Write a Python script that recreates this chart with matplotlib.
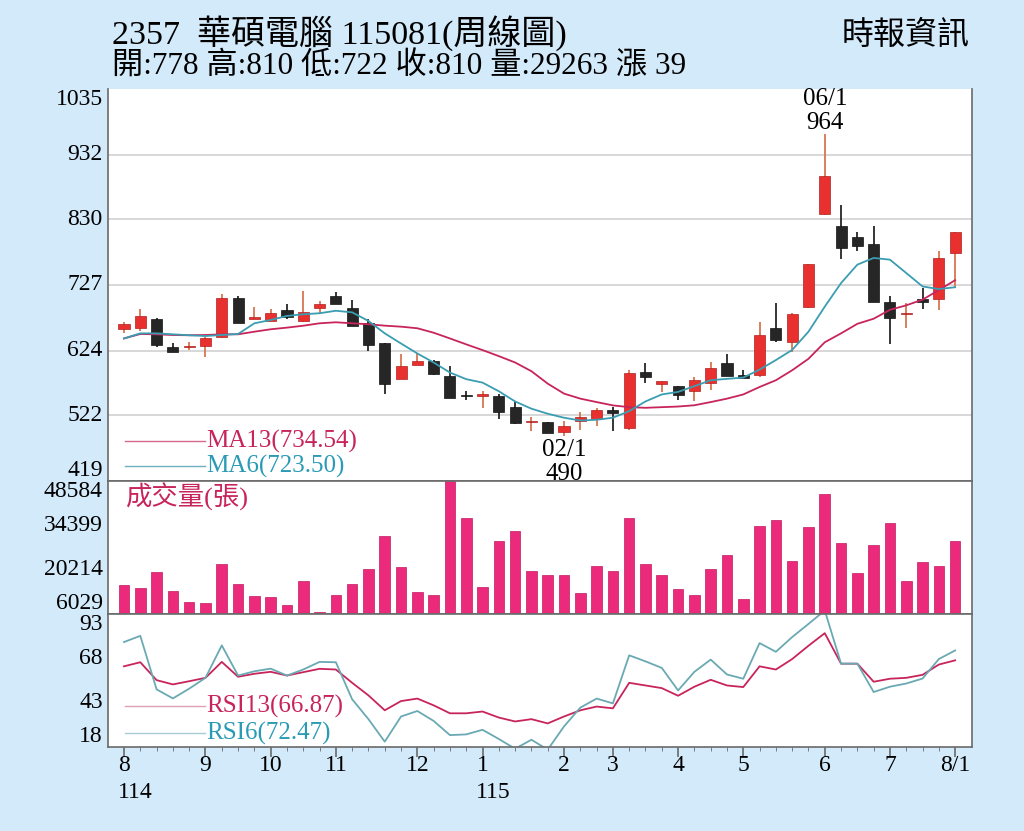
import matplotlib
matplotlib.use("Agg")
import matplotlib.pyplot as plt
import numpy as np

plt.rcParams['font.family'] = ['Liberation Serif', 'Noto Sans CJK TC', 'DejaVu Sans']

# 週K資料 (52 週)
opens = [658, 660, 674, 630, 630, 631, 646, 706, 673, 671, 688, 670, 691, 710, 691, 668,
         636, 579, 601, 607, 584, 554, 553, 552, 536, 512, 512, 496, 513, 517, 531, 503,
         590, 572, 568, 560, 573, 605, 585, 585, 660, 637, 692, 838, 819, 803, 792, 701,
         682, 705, 705, 778]
highs = [669, 689, 675, 636, 638, 645, 713, 710, 693, 690, 697, 718, 702, 716, 704, 673,
         636, 618, 620, 609, 599, 561, 561, 556, 544, 520, 512, 514, 528, 533, 535, 593,
         604, 576, 569, 582, 606, 618, 594, 669, 698, 683, 760, 964, 852, 810, 819, 710,
         698, 722, 780, 810]
lows = [652, 654, 630, 621, 625, 614, 644, 667, 673, 670, 673, 669, 683, 697, 663, 624,
        555, 579, 601, 585, 549, 546, 533, 517, 509, 498, 495, 490, 499, 505, 498, 499,
        573, 559, 547, 544, 562, 584, 581, 582, 637, 622, 691, 837, 768, 781, 700, 635,
        660, 689, 688, 722]
closes = [665, 678, 633, 621, 631, 644, 706, 668, 677, 683, 677, 684, 697, 697, 663, 633,
          572, 600, 607, 587, 549, 553, 555, 528, 510, 513, 495, 506, 520, 531, 526, 588,
          582, 576, 554, 577, 597, 584, 581, 648, 640, 681, 760, 899, 785, 789, 700, 675,
          683, 700, 770, 810]

ma13 = [643, 650, 649.5, 648.4, 648, 648.4, 649.5, 649.5, 653.6, 657.4, 660, 663, 666.8,
        668.4, 666.8, 665.3, 663.1, 661.5, 659, 652, 643, 633.7, 624.7, 615.2, 605.2, 591.5,
        572, 556.3, 548.4, 543, 537.8, 535, 534, 535, 536, 538, 543, 548.4, 555, 566.7,
        577.3, 593, 611, 637, 651, 666, 674, 688, 695, 704, 719, 734.54]
ma6 = [643, 651, 651, 649.5, 648, 646.8, 648.4, 650, 666.8, 672, 678.4, 681, 682.6, 686.5,
       684, 670.5, 651, 635, 619.4, 605.2, 589.4, 579, 573.6, 560, 544, 532.6, 524.7, 518.4,
       514.1, 515.2, 518.4, 528.8, 544, 555, 559, 568, 577.3, 579.5, 581.5, 594, 609, 625,
       653.6, 693, 730, 759, 769.5, 766.8, 745.8, 724.7, 720.6, 723.5]

volumes = [15400, 14344, 19368, 13480, 9864, 9448, 22024, 15624, 11784, 11560, 8904, 16488,
           6664, 12200, 15528, 20520, 31080, 21160, 12968, 12200, 48584, 36744, 14568, 29480,
           32680, 19880, 18504, 18504, 12840, 21480, 19688, 36744, 22024, 18504, 14024, 12104,
           20424, 25000, 10920, 34088, 36200, 22984, 33768, 44424, 28648, 19144, 28104, 35048,
           16488, 22664, 21384, 29263]

rsi13 = [63.5, 65.8, 55.7, 53.3, 55.1, 57.0, 66.0, 57.6, 59.3, 60.4, 58.3, 60.2, 62.1, 61.7,
         54.2, 47.1, 38.7, 43.9, 45.3, 41.5, 37.0, 37.0, 38.0, 34.6, 32.4, 33.7, 31.3, 35.2,
         38.7, 40.8, 39.8, 54.2, 52.7, 51.2, 46.9, 52.0, 55.9, 52.7, 51.8, 63.5, 61.7, 67.6,
         75.1, 82.2, 65.0, 65.0, 54.8, 56.5, 57.0, 58.7, 64.5, 66.87]
rsi6 = [77.2, 80.7, 50.5, 45.4, 50.9, 57.0, 75.3, 58.3, 60.7, 62.2, 58.3, 61.7, 66.0, 65.8,
        44.9, 33.7, 21.0, 35.2, 38.3, 32.7, 24.7, 25.1, 27.7, 22.5, 17.0, 22.1, 16.5, 29.6,
        40.2, 45.3, 42.6, 69.7, 66.3, 62.6, 49.9, 60.4, 67.3, 58.9, 56.5, 76.6, 71.7, 80.0,
        87.4, 95.0, 65.0, 65.0, 49.0, 52.0, 53.8, 56.6, 67.6, 72.47]

price_ticks = [419, 522, 624, 727, 830, 932, 1035]
vol_ticks = [6029, 20214, 34399, 48584]
rsi_ticks = [18, 43, 68, 93]

month_idx = [0, 5, 9, 13, 18, 22, 27, 30, 34, 38, 43, 47, 51]
month_lbl = ['8', '9', '10', '11', '12', '1', '2', '3', '4', '5', '6', '7', '8/1']
year_idx = [0, 22]
year_lbl = ['114', '115']

BG = '#d3eafa'
RED = '#e8312f'
BLACK = '#262626'
PINK = '#ec2a7c'
C13 = '#c8245c'
C6 = '#3a9db2'
FRAME = '#6a6a6a'

fig = plt.figure(figsize=(10.24, 8.31), dpi=100, facecolor=BG)
L, W = 0.1055, 0.8438
ax1 = fig.add_axes([L, 0.4212, W, 0.4717])
ax2 = fig.add_axes([L, 0.2611, W, 0.1600])
ax3 = fig.add_axes([L, 0.1011, W, 0.1600])

x = np.arange(len(closes))
xlim = (-0.98, 52.04)

for ax in (ax1, ax2, ax3):
    ax.set_xlim(*xlim)
    ax.set_facecolor('white')
    for s in ax.spines.values():
        s.set_color(FRAME)
        s.set_linewidth(1.2)
    ax.tick_params(left=False, labelleft=False, bottom=False, labelbottom=False)
ax1.spines['top'].set_visible(False)

# ---- K線 ----
ax1.set_ylim(price_ticks[0], price_ticks[-1])
for g in price_ticks[1:-1]:
    ax1.axhline(g, color='#d4d4d4', lw=1.3, zorder=0)

for i in x:
    o, h, l, c = opens[i], highs[i], lows[i], closes[i]
    up = c >= o
    body_c = RED if up else BLACK
    wick_c = '#d77550' if up else BLACK
    ax1.vlines(i, l, h, color=wick_c, lw=1.3, zorder=2)
    bh = max(abs(c - o), 1.6)
    ax1.bar(i, bh, bottom=min(o, c), width=0.68, color=body_c,
            edgecolor='#b02020' if up else '#111111', lw=0.5, zorder=3)

ax1.plot(x, ma13, color=C13, lw=1.3, zorder=4)
ax1.plot(x, ma6, color=C6, lw=1.3, zorder=4)

for v in price_ticks:
    va = 'bottom' if v == price_ticks[0] else ('top' if v == price_ticks[-1] else 'center')
    ax1.text(-0.006, v, str(v), transform=ax1.get_yaxis_transform(), ha='right', va=va,
             fontsize=17)

ax1.plot([0.02, 0.112], [0.102, 0.102], transform=ax1.transAxes, color='#d66a8a', lw=1)
ax1.text(0.114, 0.102, 'MA13(734.54)', transform=ax1.transAxes, color=C13,
         fontsize=18, va='center')
ax1.plot([0.02, 0.112], [0.038, 0.038], transform=ax1.transAxes, color='#6fb0c0', lw=1)
ax1.text(0.114, 0.038, 'MA6(723.50)', transform=ax1.transAxes, color='#2a9ab5',
         fontsize=18, va='center')

hi = int(np.argmax(highs))
lo = int(np.argmin(lows))
ax1.annotate('06/1\n964', (hi, highs[hi]), xytext=(0, 0), textcoords='offset points',
             ha='center', va='bottom', fontsize=18, linespacing=1.15)
ax1.annotate('02/1\n490', (lo, lows[lo]), xytext=(0, -2), textcoords='offset points',
             ha='center', va='top', fontsize=18, linespacing=1.15, zorder=6,
             annotation_clip=False)

# ---- 成交量 ----
ax2.set_ylim(vol_ticks[0], vol_ticks[-1])
ax2.bar(x, volumes, width=0.65, color=PINK, edgecolor='#c01a60', lw=0.5)
for v in vol_ticks:
    va = 'bottom' if v == vol_ticks[0] else ('top' if v == vol_ticks[-1] else 'center')
    ax2.text(-0.006, v, str(v), transform=ax2.get_yaxis_transform(), ha='right', va=va,
             fontsize=17)
ax2.text(0.02, 0.88, '成交量(張)', transform=ax2.transAxes, color=C13, fontsize=19,
         va='center')

# ---- RSI ----
ax3.set_ylim(rsi_ticks[0], rsi_ticks[-1])
ax3.plot(x, rsi13, color=C13, lw=1.3)
ax3.plot(x, rsi6, color='#6aa9b3', lw=1.3)
for v in rsi_ticks:
    va = 'bottom' if v == rsi_ticks[0] else ('top' if v == rsi_ticks[-1] else 'center')
    ax3.text(-0.006, v, str(v), transform=ax3.get_yaxis_transform(), ha='right', va=va,
             fontsize=17)
ax3.plot([0.02, 0.112], [0.308, 0.308], transform=ax3.transAxes, color='#e0a0b4', lw=1)
ax3.text(0.114, 0.308, 'RSI13(66.87)', transform=ax3.transAxes, color=C13,
         fontsize=18, va='center')
ax3.plot([0.02, 0.112], [0.105, 0.105], transform=ax3.transAxes, color='#a8cdd4', lw=1)
ax3.text(0.114, 0.105, 'RSI6(72.47)', transform=ax3.transAxes, color='#2a9ab5',
         fontsize=18, va='center')

ax3.set_xticks(x, minor=True)
ax3.set_xticks(month_idx)
ax3.tick_params(which='minor', bottom=True, length=3, color=FRAME, direction='out')
ax3.tick_params(which='major', bottom=True, length=7, width=1.2, color=FRAME,
                direction='out', labelbottom=False)
for i, m in zip(month_idx, month_lbl):
    ax3.text(i, -0.143, m, transform=ax3.get_xaxis_transform(), ha='center', va='center',
             fontsize=17)
for i, yl in zip(year_idx, year_lbl):
    ax3.text(i - 0.4, -0.346, yl, transform=ax3.get_xaxis_transform(), ha='left',
             va='center', fontsize=17)

# ---- 標題 ----
fig.text(112 / 1024, 1 - 33 / 831, '2357  華碩電腦 115081(周線圖)', fontsize=24.5,
         va='center', ha='left')
fig.text(112 / 1024, 1 - 67 / 831, '開:778 高:810 低:722 收:810 量:29263 漲 39',
         fontsize=22.5, va='center', ha='left')
fig.text(970 / 1024, 1 - 36 / 831, '時報資訊', fontsize=23, va='center', ha='right')

fig.savefig('out.png', dpi=100, facecolor=BG)
